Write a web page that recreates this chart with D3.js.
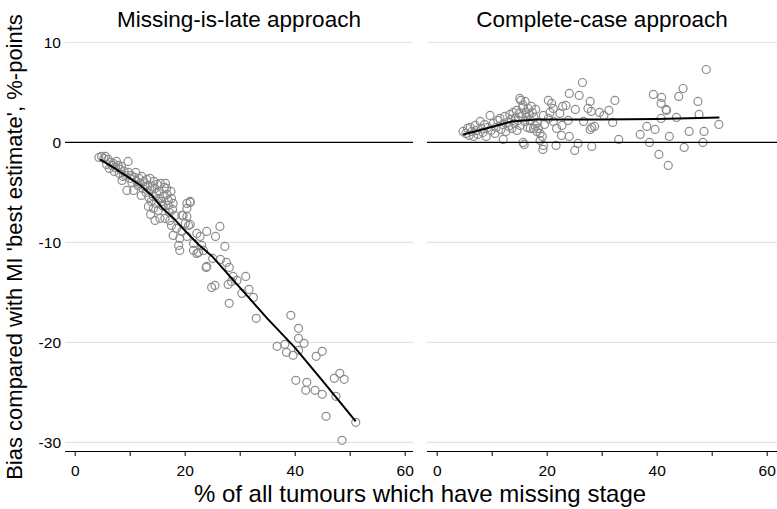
<!DOCTYPE html>
<html><head><meta charset="utf-8">
<script src="https://cdn.jsdelivr.net/npm/d3@7"></script>
<style>body{margin:0;background:#fff}svg{display:block}text{font-family:"Liberation Sans",Arial,sans-serif}</style>
</head><body><svg id="c" width="777" height="509"></svg>
<script>
const panelTitles = ["Missing-is-late approach", "Complete-case approach"];
const xTicks = [0, 10, 20, 30, 40, 50, 60];
const xTickLabels = [0, 20, 40, 60];
const yTicks = [10, 0, -10, -20, -30];
const yTitle = "Bias compared with MI 'best estimate', %-points";
const xTitle = "% of all tumours which have missing stage";

// Missing-is-late: [% missing, bias]
const lateX = [4.4,4.9,5.3,5.6,5.8,6.1,6.3,6.5,6.8,7.0,7.2,7.4,7.6,7.9,8.1,8.3,8.5,8.6,8.8,9.0,9.2,9.5,9.7,9.8,10.1,10.3,10.4,10.7,10.9,11.1,11.3,11.5,11.7,11.9,12.1,12.2,12.4,12.6,12.8,13.0,13.1,13.3,13.4,13.5,13.7,13.7,13.8,13.9,14.1,14.3,14.3,14.4,14.6,14.6,14.8,14.9,15.0,15.2,15.2,15.4,15.5,15.6,15.8,15.9,16.1,16.1,16.3,16.4,16.5,16.7,16.8,17.0,17.0,17.2,17.3,17.5,17.6,17.6,17.8,17.9,17.9,18.2,18.5,18.9,19.1,19.1,19.5,19.5,19.7,20.1,20.4,20.4,20.4,20.4,20.7,21.0,21.0,21.0,21.6,21.6,22.2,22.2,22.5,22.8,23.1,23.4,23.9,24.0,24.0,24.9,25.1,25.5,25.6,26.4,26.5,27.3,27.6,27.9,28.1,28.1,28.5,28.8,29.5,30.4,31.1,31.7,32.5,33.0,36.8,38.2,38.5,39.3,39.7,40.2,40.7,40.7,40.7,41.7,42.0,42.2,43.7,43.9,45.0,45.0,45.7,47.2,47.5,48.2,48.6,49.0,51.1];
const lateY = [-1.5,-1.4,-1.6,-1.4,-2.2,-1.7,-2.6,-2.0,-2.3,-2.1,-2.9,-2.5,-1.9,-2.3,-3.1,-2.7,-2.4,-3.8,-3.4,-2.9,-3.3,-4.8,-1.9,-3.0,-3.6,-3.3,-4.0,-4.8,-3.5,-3.0,-3.9,-4.3,-3.6,-4.1,-5.3,-3.4,-4.6,-3.9,-4.4,-5.0,-3.7,-4.3,-6.4,-5.5,-4.8,-3.6,-7.2,-5.9,-4.4,-5.4,-6.6,-3.9,-4.6,-7.8,-6.1,-5.1,-4.2,-5.6,-6.8,-4.9,-7.6,-4.1,-5.9,-6.3,-5.4,-6.4,-4.5,-7.6,-4.1,-4.6,-5.2,-5.8,-6.3,-7.0,-7.8,-4.9,-5.6,-8.3,-6.7,-6.1,-9.3,-7.3,-8.6,-10.3,-9.6,-10.8,-7.3,-8.9,-7.3,-8.1,-6.1,-6.6,-7.4,-9.4,-8.3,-5.9,-6.0,-8.2,-10.1,-10.8,-9.1,-11.1,-11.0,-9.4,-10.3,-10.8,-12.5,-8.9,-12.4,-14.5,-11.6,-14.3,-9.4,-8.4,-11.7,-10.4,-12.0,-14.2,-12.5,-16.1,-13.9,-13.4,-13.8,-15.1,-13.4,-14.7,-15.5,-17.6,-20.4,-20.2,-21.0,-17.3,-21.3,-23.8,-18.6,-19.6,-20.8,-20.1,-24.8,-24.0,-24.8,-21.4,-20.9,-25.2,-27.4,-23.6,-25.4,-23.1,-29.8,-23.7,-28.0];
const lateFitX = [4.6,7,9.5,12,14,16,18,20,22.5,25,30,35,40,45,51.1];
const lateFitY = [-1.7,-2.5,-3.4,-4.3,-5.3,-6.6,-7.6,-8.8,-10.2,-11.4,-14.5,-17.6,-20.5,-23.8,-27.9];

// Complete-case: [% missing, bias]
const ccX = [4.8,5.3,5.6,5.9,6.1,6.4,6.7,7.0,7.2,7.5,7.9,8.1,8.4,8.7,9.0,9.3,9.7,9.9,10.3,10.6,10.8,11.1,11.5,11.7,12.0,12.1,12.4,12.6,12.9,13.1,13.3,13.5,13.7,13.9,14.1,14.3,14.5,14.6,14.8,15.0,15.1,15.2,15.3,15.4,15.6,15.7,15.7,15.9,16.0,16.1,16.2,16.4,16.5,16.6,16.8,17.0,17.0,17.2,17.4,17.6,17.7,17.9,18.0,18.2,18.3,18.5,18.8,18.8,19.2,19.3,19.4,19.4,19.6,20.3,20.3,20.6,20.9,21.2,21.2,21.7,21.8,22.4,22.7,22.8,22.9,23.5,23.9,24.1,24.1,25.1,25.2,25.7,25.9,26.5,26.7,27.5,27.9,27.9,28.1,28.2,28.2,28.7,29.6,30.4,31.3,32.0,32.4,33.1,37.0,38.2,38.7,39.4,39.7,40.4,40.8,40.8,40.9,41.7,41.8,42.1,42.3,43.6,44.0,44.8,45.0,45.9,47.5,47.7,48.4,48.6,49.0,51.3];
const ccY = [1.1,0.9,1.4,0.7,1.5,1.1,0.6,1.7,1.2,0.8,2.1,1.4,1.0,1.8,0.6,1.5,2.7,1.2,1.9,0.9,1.5,2.2,2.4,1.3,1.8,0.3,2.6,1.1,2.0,1.6,2.8,2.3,1.4,3.0,1.9,2.5,3.2,1.2,2.2,2.9,4.4,1.7,4.2,2.6,3.5,3.7,0.0,-0.2,2.1,4.1,3.0,2.5,1.5,3.4,2.8,1.4,2.2,3.6,3.0,1.4,2.5,1.7,3.3,1.1,2.0,1.4,0.9,0.2,0.6,-0.7,2.7,-0.3,1.8,2.4,4.2,3.0,3.9,3.4,2.1,-0.3,1.4,2.9,0.7,1.7,3.6,3.7,2.2,4.9,0.6,-0.8,3.3,-0.1,4.7,6.0,2.1,3.4,4.1,1.3,3.1,1.5,-0.4,1.6,3.0,2.7,3.2,2.0,4.2,0.3,0.8,1.6,0.0,4.8,1.3,-1.2,3.9,2.4,4.5,3.3,3.2,-2.3,0.6,2.5,4.6,5.4,-0.5,1.1,4.1,2.8,0.0,1.1,7.3,1.8];
const ccFitX = [4.8,9,13.6,18,30,40,51.4];
const ccFitY = [0.8,1.4,2.1,2.3,2.3,2.35,2.5];

const svg = d3.select("#c");
const y = d3.scaleLinear().domain([10, -30]).range([42.5, 442.3]);
const panels = [
  {title: panelTitles[0], xs: lateX, ys: lateY, fx: lateFitX, fy: lateFitY, x0: 65, x1: 413, r0: 74.7, r1: 404.7},
  {title: panelTitles[1], xs: ccX, ys: ccY, fx: ccFitX, fy: ccFitY, x0: 427, x1: 777, r0: 436.7, r1: 766.7}
];
const axisY = 451;

panels.forEach((p, i) => {
  const x = d3.scaleLinear().domain([0, 60]).range([p.r0, p.r1]);
  const g = svg.append("g");
  g.selectAll("line.grid").data(yTicks.filter(v => v !== 0)).join("line")
    .attr("x1", p.x0).attr("x2", p.x1).attr("y1", d => y(d)).attr("y2", d => y(d))
    .attr("stroke", "#e3e3e3").attr("stroke-width", 1.2);
  g.selectAll("circle").data(p.xs.map((v, k) => [v, p.ys[k]])).join("circle")
    .attr("cx", d => x(d[0])).attr("cy", d => y(d[1])).attr("r", 4)
    .attr("fill", "none").attr("stroke", "#8c8c8c").attr("stroke-width", 1.2);
  g.append("line").attr("x1", p.x0).attr("x2", p.x1).attr("y1", y(0)).attr("y2", y(0))
    .attr("stroke", "#000").attr("stroke-width", 1.3);
  g.append("path").datum(p.fx.map((v, k) => [v, p.fy[k]]))
    .attr("d", d3.line().x(d => x(d[0])).y(d => y(d[1])))
    .attr("fill", "none").attr("stroke", "#000").attr("stroke-width", 2);
  const ax = g.append("g").attr("transform", `translate(0,${axisY})`)
    .call(d3.axisBottom(x).tickValues(xTicks).tickSize(5).tickFormat(d => xTickLabels.includes(d) ? d : ""));
  ax.select(".domain").attr("d", `M${p.x0},0.5H${p.x1}`).attr("stroke", "#000");
  ax.selectAll(".tick line").attr("stroke", "#000");
  ax.selectAll(".tick text").attr("font-size", 15.5).attr("fill", "#000").attr("dy", "1.1em")
    .attr("font-family", "Liberation Sans, Arial, sans-serif");
  svg.append("text").attr("x", (p.x0 + p.x1) / 2).attr("y", 27).attr("text-anchor", "middle")
    .attr("font-size", 22.5).attr("fill", "#000").text(p.title);
});

svg.selectAll("text.yt").data(yTicks).join("text").attr("class", "yt")
  .attr("x", 61).attr("y", d => y(d)).attr("dy", "0.35em").attr("text-anchor", "end")
  .attr("font-size", 15.5).attr("fill", "#000").text(d => d);

svg.append("text").attr("transform", "translate(22,247) rotate(-90)").attr("text-anchor", "middle")
  .attr("font-size", 22).attr("fill", "#000").text(yTitle);
svg.append("text").attr("x", 420).attr("y", 502).attr("text-anchor", "middle")
  .attr("font-size", 24).attr("fill", "#000").text(xTitle);
</script></body></html>
